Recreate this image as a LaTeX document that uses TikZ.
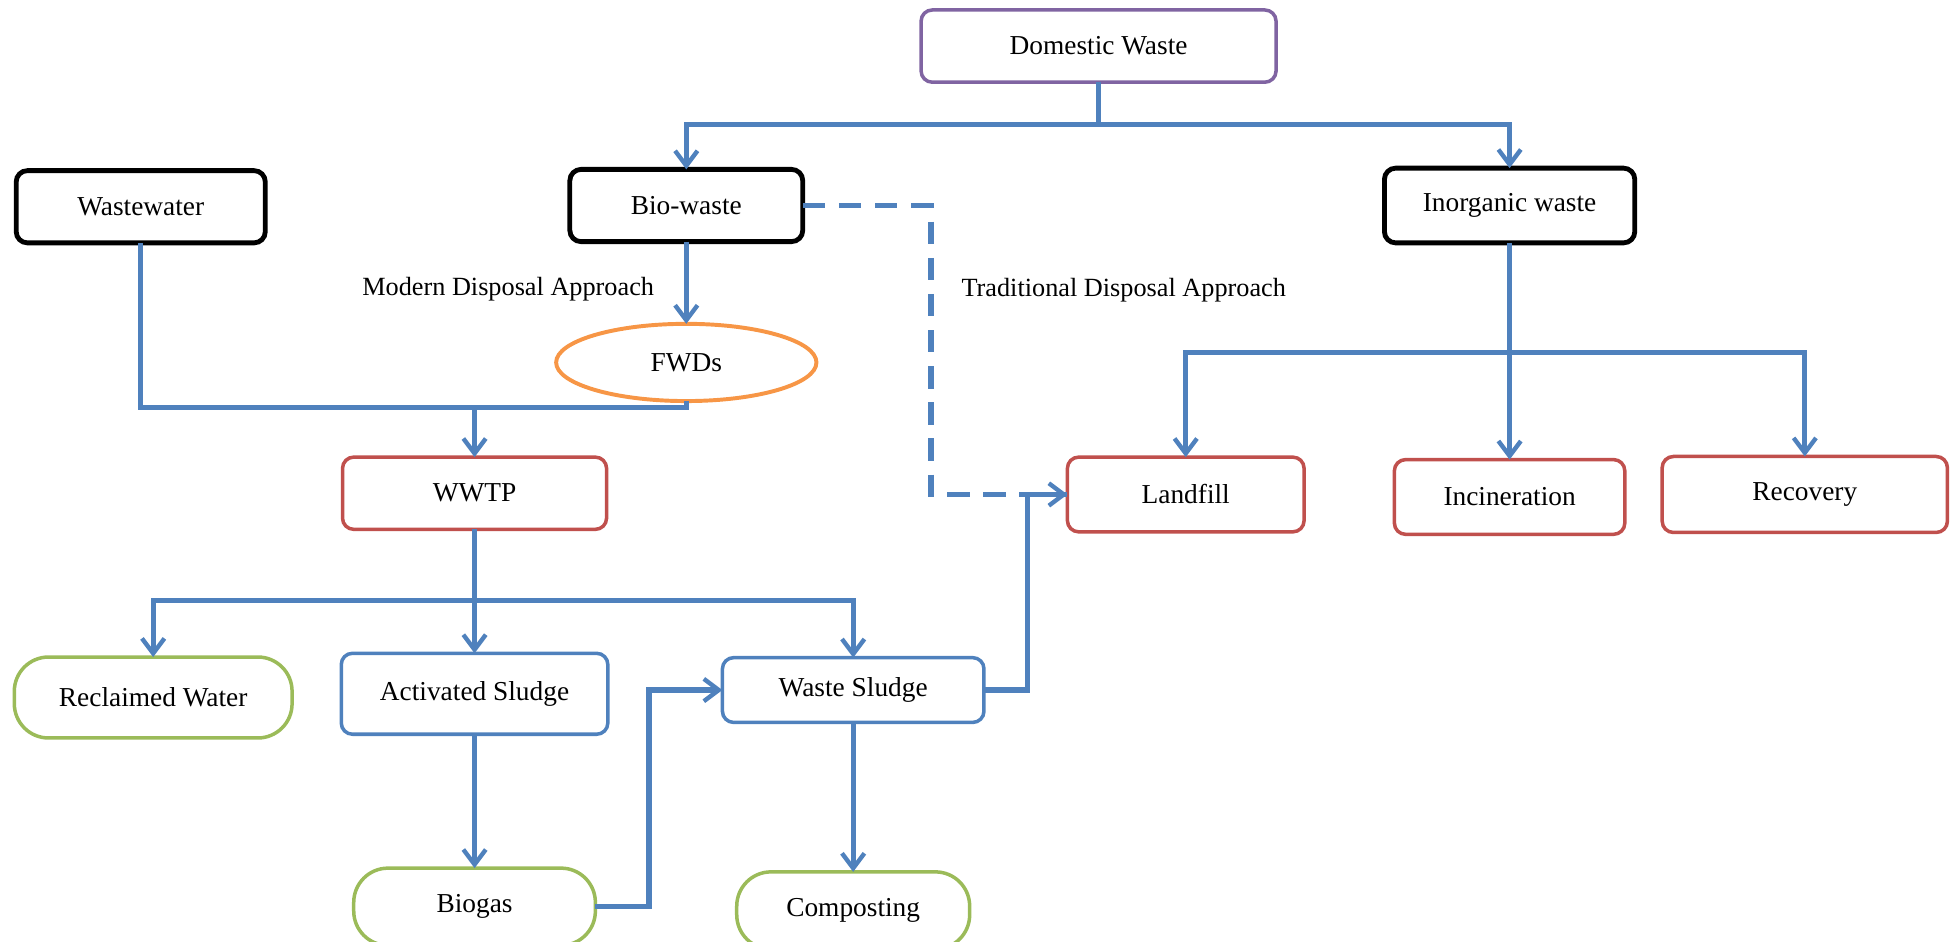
\documentclass[tikz,border=0pt]{standalone}
\usepackage{fontspec}
\setmainfont{Liberation Serif}
\usetikzlibrary{positioning, shapes.geometric, arrows.meta}

\definecolor{wblue}{HTML}{4F81BD}
\definecolor{wred}{HTML}{C0504D}
\definecolor{wgreen}{HTML}{9BBB59}
\definecolor{wpurple}{HTML}{8064A2}
\definecolor{worange}{HTML}{F79646}

\begin{document}
\begin{tikzpicture}[
    x=0.2mm, y=-0.2mm,
    every node/.style = {font=\fontsize{12.5}{14}\selectfont, inner sep=0pt, outer sep=0pt},
    box/.style = {draw, rounded corners=1.8mm, line width=1.6pt, minimum height=11.6mm},
    blackbox/.style = {box, draw=black, line width=2.2pt},
    redbox/.style = {box, draw=wred},
    bluebox/.style = {box, draw=wblue},
    greenbox/.style = {box, draw=wgreen, rounded corners=5.5mm, minimum height=12.4mm},
    approach/.style = {font=\fontsize{12}{14}\selectfont},
    line/.style = {draw=wblue, line width=2.4pt},
    flow/.style = {line, -{Straight Barb[length=2.4mm, width=3.6mm, line width=2pt]}}
]
    \useasboundingbox (0,0) rectangle (1568,756);

    \node [box, draw=wpurple, minimum width=57mm] (dom) at (882,37) {Domestic Waste};
    \node [blackbox, minimum width=40mm] (ww) at (113,166) {Wastewater};
    \node [blackbox, minimum width=37.4mm] (bio) at (551,165) {Bio-waste};
    \node [blackbox, minimum width=40.2mm, minimum height=12mm] (inorg) at (1212,165) {Inorganic waste};
    \node [ellipse, draw=worange, line width=1.8pt, minimum width=41.8mm, minimum height=12.4mm] (fwd) at (551,291) {FWDs};
    \node [approach] (modern) at (408,232) {Modern Disposal Approach};
    \node [approach, anchor=west] (trad) at (772,233) {Traditional Disposal Approach};

    \node [redbox, minimum width=42.4mm] (wwtp) at (381,396) {WWTP};
    \node [redbox, minimum width=38mm, minimum height=12mm] (land) at (952,397) {Landfill};
    \node [redbox, minimum width=37mm, minimum height=12mm] (incin) at (1212,399) {Incineration};
    \node [redbox, minimum width=45.8mm, minimum height=12.2mm] (recov) at (1449,397) {Recovery};

    \node [greenbox, minimum width=44.6mm, minimum height=13mm] (recl) at (123,560) {Reclaimed Water};
    \node [bluebox, minimum width=42.8mm, minimum height=13mm] (act) at (381,557) {Activated Sludge};
    \node [bluebox, minimum width=42mm, minimum height=10.4mm] (wsl) at (685,554) {Waste Sludge};
    \node [greenbox, minimum width=38.8mm] (biogas) at (381,728) {Biogas};
    \node [greenbox, minimum width=37.4mm] (comp) at (685,731) {Composting};

    \coordinate (jd) at (dom.south |- 0,100);
    \coordinate (jw) at (wwtp.north |- 0,327);
    \coordinate (ji) at (inorg.south |- 0,283);
    \coordinate (jt) at (wwtp.south |- 0,482);

    \draw[line] (dom.south) -- (jd);
    \draw[flow] (jd) -| (bio.north);
    \draw[flow] (jd) -| (inorg.north);

    \draw[flow] (bio.south) -- (fwd.north);
    \draw[line] (ww.south) |- (jw) -| (fwd.south);
    \draw[flow] (jw) -- (wwtp.north);

    \draw[line] (inorg.south) -- (ji);
    \foreach \n in {land, incin, recov}
        \draw[flow] (ji) -| (\n.north);

    \draw[line] (wwtp.south) -- (jt);
    \foreach \n in {recl, act, wsl}
        \draw[flow] (jt) -| (\n.north);

    \draw[flow] (act.south) -- (biogas.north);
    \draw[flow] (wsl.south) -- (comp.north);
    \draw[flow] (biogas.east) -- ++(43,0) |- (wsl.west);

    \draw[line, dash pattern=on 3.6mm off 2.2mm] (bio.east) -- ++(103,0) |- (land.west);
    \draw[flow] (wsl.east) -- ++(35,0) |- (land.west);
\end{tikzpicture}
\end{document}
